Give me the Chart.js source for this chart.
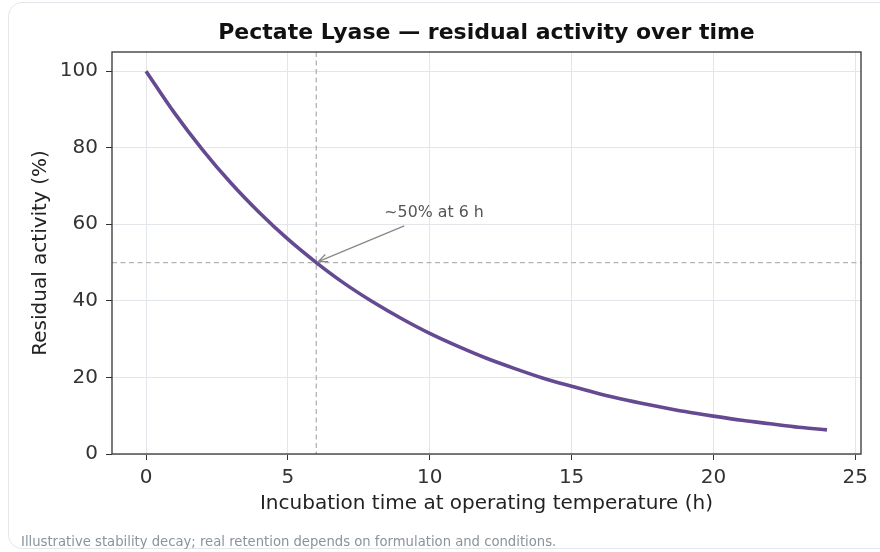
<!DOCTYPE html>
<html>
<head>
<meta charset="utf-8">
<script src="https://cdn.jsdelivr.net/npm/chart.js@4.4.1/dist/chart.umd.min.js"></script>
<style>
  html, body { margin: 0; padding: 0; background: #fff; width: 880px; height: 552px; overflow: hidden; }
  .card { position: absolute; left: 8px; top: 2px; width: 1000px; height: 547px; border: 1.5px solid #e4e7eb; border-radius: 14px; box-sizing: border-box; }
  #wrap { position: absolute; left: 0; top: 0; width: 880px; height: 552px; }
  .note { position: absolute; left: 21px; top: 534px; font: 13.2px "DejaVu Sans", sans-serif; color: #8a939b; white-space: nowrap; }
</style>
</head>
<body>
<div class="card"></div>
<div id="wrap"><canvas id="c" width="880" height="552"></canvas></div>
<div class="note">Illustrative stability decay; real retention depends on formulation and conditions.</div>
<script>
// values
const hours = [0, 1, 2, 3, 4, 5, 6, 7, 8, 9, 10, 11, 12, 13, 14, 15, 16, 17, 18, 19, 20, 21, 22, 23, 24];
const activity = [100, 89.1, 79.4, 70.7, 63.0, 56.1, 50.0, 44.5, 39.7, 35.4, 31.5, 28.1, 25.0,
                  22.3, 19.8, 17.7, 15.7, 14.0, 12.5, 11.1, 9.9, 8.8, 7.9, 7.0, 6.3];
const xTicks = [0, 5, 10, 15, 20, 25];
const yTicks = [0, 20, 40, 60, 80, 100];
const xRange = [-1.2, 25.2];
const yRange = [0, 105];
const halfPoint = [6, 50];
const noteText = '~50% at 6 h';
const noteAt = [8.4, 61.8];
const arrowFrom = [9.1, 59.6];

const FONT = '"DejaVu Sans", sans-serif';
const purple = '#654a92';

const decor = {
  id: 'decor',
  beforeDatasetsDraw(chart) {
    const { ctx, chartArea: a, scales: { x, y } } = chart;
    ctx.save();
    ctx.beginPath();
    ctx.rect(a.left, a.top, a.right - a.left, a.bottom - a.top);
    ctx.clip();
    ctx.strokeStyle = '#b3b3b3';
    ctx.lineWidth = 1.3;
    ctx.setLineDash([5, 3.5]);
    const px = x.getPixelForValue(halfPoint[0]);
    const py = y.getPixelForValue(halfPoint[1]);
    ctx.beginPath();
    ctx.moveTo(px, a.top); ctx.lineTo(px, a.bottom);
    ctx.moveTo(a.left, py); ctx.lineTo(a.right, py);
    ctx.stroke();
    ctx.restore();
  },
  afterDatasetsDraw(chart) {
    const { ctx, chartArea: a, scales: { x, y } } = chart;
    ctx.save();
    // frame
    ctx.strokeStyle = '#333';
    ctx.lineWidth = 1.3;
    ctx.strokeRect(a.left, a.top, a.right - a.left, a.bottom - a.top);

    // annotation
    const tx = x.getPixelForValue(noteAt[0]), ty = y.getPixelForValue(noteAt[1]);
    ctx.fillStyle = '#555';
    ctx.font = '15.8px ' + FONT;
    ctx.textAlign = 'left';
    ctx.textBaseline = 'alphabetic';
    ctx.fillText(noteText, tx, ty);
    const x0 = x.getPixelForValue(arrowFrom[0]), y0 = y.getPixelForValue(arrowFrom[1]);
    const x1 = x.getPixelForValue(halfPoint[0]) + 2, y1 = y.getPixelForValue(halfPoint[1]) - 1;
    ctx.strokeStyle = '#888';
    ctx.lineWidth = 1.3;
    ctx.beginPath();
    ctx.moveTo(x0, y0); ctx.lineTo(x1, y1);
    const ang = Math.atan2(y1 - y0, x1 - x0);
    ctx.moveTo(x1 - 10 * Math.cos(ang - 0.4), y1 - 10 * Math.sin(ang - 0.4));
    ctx.lineTo(x1, y1);
    ctx.lineTo(x1 - 10 * Math.cos(ang + 0.4), y1 - 10 * Math.sin(ang + 0.4));
    ctx.stroke();

    // titles
    const cx = (a.left + a.right) / 2;
    ctx.fillStyle = '#111';
    ctx.textAlign = 'center';
    ctx.textBaseline = 'middle';
    ctx.font = 'bold 22px ' + FONT;
    ctx.fillText('Pectate Lyase — residual activity over time', cx, 33);
    ctx.fillStyle = '#222';
    ctx.font = '20px ' + FONT;
    ctx.fillText('Incubation time at operating temperature (h)', cx, 504);
    ctx.translate(40.5, (a.top + a.bottom) / 2);
    ctx.rotate(-Math.PI / 2);
    ctx.fillText('Residual activity (%)', 0, 0);
    ctx.restore();
  }
};

new Chart(document.getElementById('c'), {
  type: 'line',
  data: {
    datasets: [{
      data: hours.map((h, i) => ({ x: h, y: activity[i] })),
      borderColor: purple,
      borderWidth: 3.6,
      pointRadius: 0,
      cubicInterpolationMode: 'monotone',
      fill: false
    }]
  },
  options: {
    responsive: false,
    animation: false,
    layout: { padding: { left: 0, top: 52, right: 19, bottom: 0 } },
    plugins: { legend: { display: false }, tooltip: { enabled: false }, title: { display: false } },
    scales: {
      x: {
        type: 'linear',
        min: xRange[0], max: xRange[1],
        afterBuildTicks: s => { s.ticks = xTicks.map(v => ({ value: v })); },
        afterFit: s => { s.height = 98; },
        grid: { color: '#e2e6eb', lineWidth: 1, tickColor: '#333', tickLength: 6 },
        border: { display: false },
        ticks: { color: '#333', font: { family: FONT, size: 20 }, padding: 6, maxRotation: 0 }
      },
      y: {
        min: yRange[0], max: yRange[1],
        afterBuildTicks: s => { s.ticks = yTicks.map(v => ({ value: v })); },
        afterFit: s => { s.width = 112; },
        grid: { color: '#e2e6eb', lineWidth: 1, tickColor: '#333', tickLength: 6 },
        border: { display: false },
        ticks: { color: '#333', font: { family: FONT, size: 20 }, padding: 8 }
      }
    }
  },
  plugins: [decor]
});
</script>
</body>
</html>
